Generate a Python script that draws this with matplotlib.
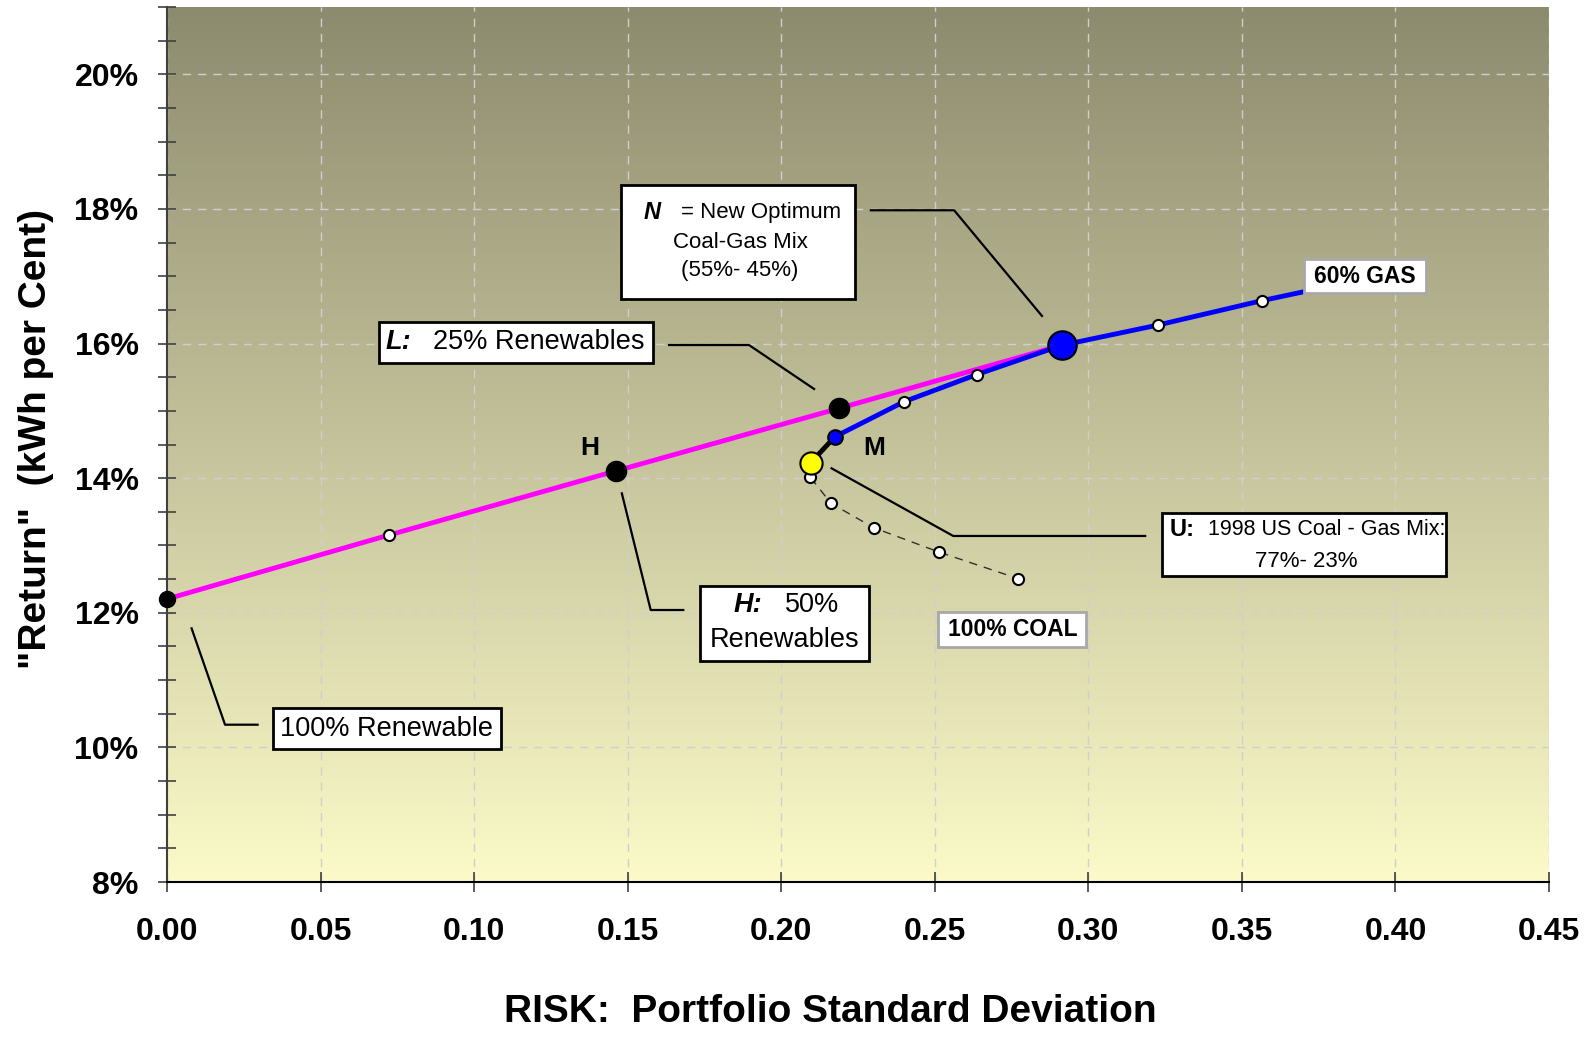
import numpy as np
import matplotlib
matplotlib.use('Agg')
import matplotlib.pyplot as plt
from matplotlib.patches import Rectangle
from matplotlib.ticker import MultipleLocator, FuncFormatter

plt.rcParams['font.family'] = ['Liberation Sans', 'DejaVu Sans']

# Renewables - optimum coal/gas line (magenta)
renew_risk = [0.0, 0.0723, 0.1461, 0.2189, 0.2914]
renew_ret = [12.205, 13.155, 14.106, 15.038, 15.975]

# Coal-gas frontier towards 60% gas (blue)
gas_risk = [0.2175, 0.2400, 0.2636, 0.2914, 0.3227, 0.3564, 0.3702]
gas_ret = [14.616, 15.136, 15.538, 15.975, 16.275, 16.636, 16.77]

# Coal-gas frontier towards 100% coal (dashed)
coal_risk = [0.2096, 0.2095, 0.2162, 0.2301, 0.2513, 0.2772]
coal_ret = [14.230, 14.013, 13.626, 13.264, 12.903, 12.506]

# 1998 US mix (U) and point M
us_point = (0.2096, 14.230)
m_point = (0.2175, 14.616)

fig = plt.figure(figsize=(15.92, 10.37), dpi=100)
ax = fig.add_axes([167 / 1592, 1 - 882 / 1037, 1382 / 1592, 875 / 1037])

xmin, xmax, ymin, ymax = 0.0, 0.45, 8.0, 21.0

# background gradient
top = np.array([0x8d, 0x8b, 0x6e]) / 255
bot = np.array([0xfb, 0xfa, 0xc8]) / 255
t = np.linspace(0, 1, 256)[:, None]
grad = (top * (1 - t) + bot * t)[:, None, :]
ax.imshow(grad, extent=[xmin, xmax, ymin, ymax], aspect='auto', zorder=0)

ax.set_xlim(xmin, xmax)
ax.set_ylim(ymin, ymax)

# lines
ax.plot(coal_risk, coal_ret, color='#303030', lw=1.0, ls=(0, (6, 5)), zorder=2)
ax.plot(renew_risk, renew_ret, color='#ff00ff', lw=3.5, zorder=3)
ax.plot(gas_risk, gas_ret, color='#0000ff', lw=3.5, zorder=3)
ax.plot([us_point[0], m_point[0]], [us_point[1], m_point[1]], color='black', lw=3.5, zorder=3)

# small white markers
wk = dict(marker='o', ls='none', mfc='white', mec='black', mew=1.5, ms=8, zorder=5)
ax.plot(coal_risk[1:], coal_ret[1:], **wk)
ax.plot([renew_risk[1]], [renew_ret[1]], **wk)
ax.plot([gas_risk[i] for i in (1, 2, 4, 5)], [gas_ret[i] for i in (1, 2, 4, 5)], **wk)

# key points
ax.plot([renew_risk[0]], [renew_ret[0]], 'o', color='black', ms=11.5, zorder=6, clip_on=False)
ax.plot(renew_risk[2:4], renew_ret[2:4], 'o', color='black', ms=14.5, zorder=6)
ax.plot([renew_risk[4]], [renew_ret[4]], 'o', mfc='#0000ff', mec='black', mew=1.5, ms=20.5, zorder=6)
ax.plot([m_point[0]], [m_point[1]], 'o', mfc='#0000ff', mec='black', mew=1.5, ms=10.5, zorder=6)
ax.plot([us_point[0]], [us_point[1]], 'o', mfc='#ffff00', mec='black', mew=1.5, ms=16, zorder=6)

# axes styling
ax.xaxis.set_major_locator(MultipleLocator(0.05))
ax.xaxis.set_major_formatter(FuncFormatter(lambda v, p: f'{v:.2f}'))
ax.yaxis.set_major_locator(MultipleLocator(2))
ax.yaxis.set_minor_locator(MultipleLocator(0.5))
ax.yaxis.set_major_formatter(FuncFormatter(lambda v, p: f'{v:.0f}%'))
ax.grid(True, which='major', color='#cfcfcf', lw=1.0, ls=(0, (6, 5)), zorder=1)
for s in ('top', 'right'):
    ax.spines[s].set_visible(False)
ax.spines['left'].set_color('#404040')
ax.spines['left'].set_linewidth(1.5)
ax.spines['bottom'].set_linewidth(1.5)
ax.tick_params(axis='x', direction='inout', length=14, width=1.2, color='#404040', pad=18,
               labelsize=23)
ax.tick_params(axis='y', which='both', direction='inout', length=13, width=1.2, color='#404040',
               pad=14, labelsize=23)
for lab in ax.get_xticklabels() + ax.get_yticklabels():
    lab.set_fontweight('bold')

fig.text(830 / 1592, 1 - 1012 / 1037, 'RISK:  Portfolio Standard Deviation', ha='center',
         va='center', fontsize=28, fontweight='bold')
fig.text(36 / 1592, 1 - 439 / 1037, '"Return"  (kWh per Cent)', ha='center', va='center',
         rotation=90, fontsize=28, fontweight='bold')


def box(x0, x1, y0, y1, edge='black'):
    ax.add_patch(Rectangle((x0, y0), x1 - x0, y1 - y0, facecolor='white', edgecolor=edge,
                           lw=2, zorder=8))


def leader(xs, ys):
    ax.plot(xs, ys, color='black', lw=1.6, zorder=7)


tk = dict(zorder=9, va='center')

# N box
leader([0.2292, 0.2563, 0.2849], [17.98, 17.98, 16.41])
box(0.1478, 0.2240, 16.66, 18.355)
ax.text(0.1578, 17.94, 'N', fontsize=17, fontweight='bold', style='italic', ha='center', **tk)
ax.text(0.1675, 17.94, '= New Optimum', fontsize=16, ha='left', **tk)
ax.text(0.1866, 17.50, 'Coal-Gas Mix', fontsize=16, ha='center', **tk)
ax.text(0.1866, 17.09, '(55%- 45%)', fontsize=16, ha='center', **tk)

# 60% GAS
box(0.3702, 0.4099, 16.751, 17.256, edge='#a8a8a8')
ax.text(0.3901, 17.00, '60% GAS', fontsize=16.5, fontweight='bold', ha='center', **tk)

# L box
leader([0.1635, 0.1895, 0.2107], [15.978, 15.978, 15.325])
box(0.0690, 0.1582, 15.711, 16.320)
ax.text(0.0752, 16.027, 'L:', fontsize=19.5, fontweight='bold', style='italic', ha='center', **tk)
ax.text(0.1211, 16.027, '25% Renewables', fontsize=19.5, ha='center', **tk)

# H and M labels
ax.text(0.1377, 14.453, 'H', fontsize=19, fontweight='bold', ha='center', **tk)
ax.text(0.2302, 14.453, 'M', fontsize=19, fontweight='bold', ha='center', **tk)

# H box
leader([0.1481, 0.1575, 0.1681], [13.774, 12.041, 12.041])
box(0.1735, 0.2286, 11.283, 12.398)
ax.text(0.1892, 12.116, 'H:', fontsize=19.5, fontweight='bold', style='italic', ha='center', **tk)
ax.text(0.2099, 12.116, '50%', fontsize=19.5, ha='center', **tk)
ax.text(0.2012, 11.596, 'Renewables', fontsize=19.5, ha='center', **tk)

# 100% Renewable box
leader([0.0080, 0.0189, 0.0295], [11.769, 10.337, 10.337])
box(0.0345, 0.1088, 9.976, 10.585)
ax.text(0.0716, 10.280, '100% Renewable', fontsize=19.5, ha='center', **tk)

# U box
leader([0.2164, 0.2560, 0.3185], [14.146, 13.141, 13.141])
box(0.3239, 0.4164, 12.546, 13.487)
ax.text(0.3304, 13.230, 'U:', fontsize=17, fontweight='bold', ha='center', **tk)
ax.text(0.3777, 13.230, '1998 US Coal - Gas Mix:', fontsize=15.5, ha='center', **tk)
ax.text(0.3711, 12.759, '77%- 23%', fontsize=16, ha='center', **tk)

# 100% COAL
box(0.2511, 0.2993, 11.491, 12.011, edge='#a8a8a8')
ax.text(0.2755, 11.744, '100% COAL', fontsize=16.5, fontweight='bold', ha='center', **tk)

fig.savefig('out.png', dpi=100)
